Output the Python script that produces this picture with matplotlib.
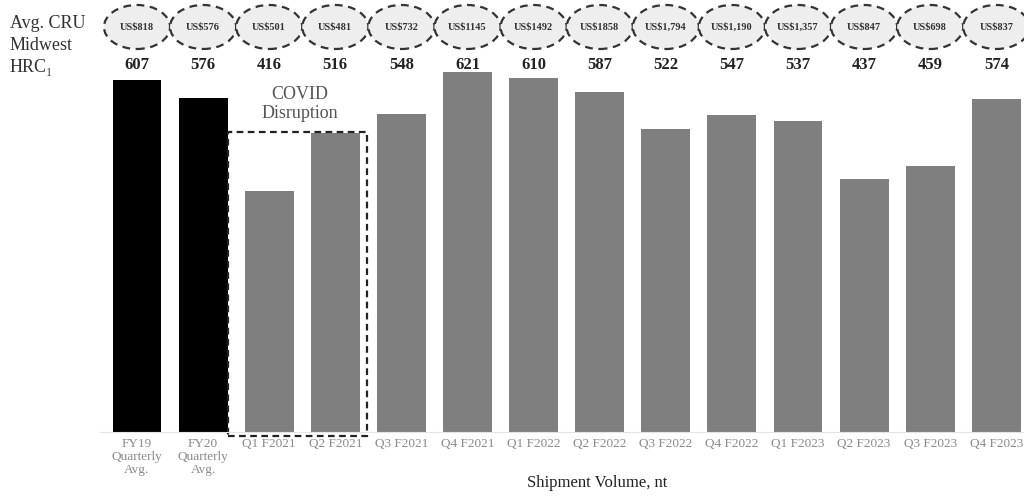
import matplotlib.pyplot as plt
from matplotlib.patches import Ellipse, Rectangle

periods = ['FY19\nQuarterly\nAvg.', 'FY20\nQuarterly\nAvg.', 'Q1 F2021', 'Q2 F2021',
           'Q3 F2021', 'Q4 F2021', 'Q1 F2022', 'Q2 F2022', 'Q3 F2022', 'Q4 F2022',
           'Q1 F2023', 'Q2 F2023', 'Q3 F2023', 'Q4 F2023']
shipments = [607, 576, 416, 516, 548, 621, 610, 587, 522, 547, 537, 437, 459, 574]
cru_prices = ['US$818', 'US$576', 'US$501', 'US$481', 'US$732', 'US$1145', 'US$1492',
              'US$1858', 'US$1,794', 'US$1,190', 'US$1,357', 'US$847', 'US$698', 'US$837']
bar_colors = ['black', 'black'] + ['#7f7f7f'] * 12

serif = ['Liberation Serif', 'DejaVu Serif']
plt.rcParams['font.family'] = serif

fig = plt.figure(figsize=(10.24, 4.97), dpi=100)
# axes run from the baseline up to the top edge of the figure
ax = fig.add_axes([100 / 1024, 65 / 497, 924 / 1024, 432 / 497])
px = 352 / 607  # pixels per unit of shipment volume
ax.set_ylim(0, 432 / px)
ax.set_xlim(-37 / 66.1, (1024 - 137) / 66.1)

x = list(range(len(shipments)))
ax.bar(x, shipments, width=0.74, color=bar_colors)

for spine in ['top', 'right', 'left']:
    ax.spines[spine].set_visible(False)
ax.spines['bottom'].set_color('#e4e4e4')
ax.spines['bottom'].set_linewidth(0.8)
ax.set_yticks([])
ax.set_xticks(x)
ax.set_xticklabels(periods, fontsize=9.5, color='#8a8a8a', linespacing=1.15)
ax.tick_params(axis='x', length=0, pad=4)
ax.set_xlabel('Shipment Volume, nt', fontsize=12, color='#222222')
ax.xaxis.set_label_coords(0.538, -0.1)

# price ellipses and volume labels above each bar
for i in x:
    ax.add_patch(Ellipse((i, (432 - 27) / px), 1.0, 44 / px, facecolor='#eeeeee',
                         edgecolor='#333333', linestyle=(0, (3.5, 2.5)), linewidth=1.6,
                         clip_on=False))
    ax.text(i, (432 - 27) / px, cru_prices[i], ha='center', va='center', fontsize=7.5,
            fontweight='bold', color='#333333', clip_on=False)
    ax.text(i, (432 - 65) / px, str(shipments[i]), ha='center', va='center', fontsize=12,
            fontweight='bold', color='#222222', clip_on=False)

# dashed box around the COVID-affected quarters
ax.add_patch(Rectangle((1.377, -4 / px), 2.1, (432 - 132 + 4) / px, fill=False,
                       edgecolor='#222222', linestyle=(0, (3, 2)), linewidth=1.6,
                       clip_on=False))
ax.text(2.46, (432 - 104) / px, 'COVID\nDisruption', ha='center', va='center',
        fontsize=13, color='#555555', linespacing=1.1)

fig.text(10 / 1024, 1 - 24 / 497, 'Avg. CRU', fontsize=13, color='#333333', va='center')
fig.text(10 / 1024, 1 - 46 / 497, 'Midwest', fontsize=13, color='#333333', va='center')
fig.text(10 / 1024, 1 - 68 / 497, 'HRC\u2081', fontsize=13, color='#333333', va='center')

fig.savefig('out.png', dpi=100, facecolor='white')
